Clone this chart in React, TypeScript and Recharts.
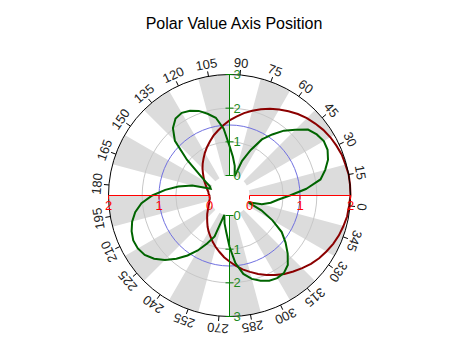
import React from 'react';
import { RadarChart, Radar, PolarGrid, PolarAngleAxis, PolarRadiusAxis, PieChart, Pie, Cell } from 'recharts';

// angle categories, every 5 degrees
const angles = [
  '0', '5', '10', '15', '20', '25', '30', '35', '40', '45', '50', '55',
  '60', '65', '70', '75', '80', '85', '90', '95', '100', '105', '110', '115',
  '120', '125', '130', '135', '140', '145', '150', '155', '160', '165', '170', '175',
  '180', '185', '190', '195', '200', '205', '210', '215', '220', '225', '230', '235',
  '240', '245', '250', '255', '260', '265', '270', '275', '280', '285', '290', '295',
  '300', '305', '310', '315', '320', '325', '330', '335', '340', '345', '350', '355',
];

// dark red series (red value axis, 0..2)
const redValues = [
  2.0, 2.0, 1.98, 1.97, 1.94, 1.91, 1.87, 1.82, 1.77, 1.71, 1.64, 1.57,
  1.5, 1.42, 1.34, 1.26, 1.17, 1.09, 1.0, 0.91, 0.83, 0.74, 0.66, 0.58,
  0.5, 0.43, 0.36, 0.29, 0.23, 0.18, 0.13, 0.09, 0.06, 0.03, 0.02, 0.0,
  0.0, 0.0, 0.02, 0.03, 0.06, 0.09, 0.13, 0.18, 0.23, 0.29, 0.36, 0.43,
  0.5, 0.58, 0.66, 0.74, 0.83, 0.91, 1.0, 1.09, 1.17, 1.26, 1.34, 1.42,
  1.5, 1.57, 1.64, 1.71, 1.77, 1.82, 1.87, 1.91, 1.94, 1.97, 1.98, 2.0,
];

// dark green series (green value axis, 0..3)
const greenValues = [
  1.7, 2.15, 2.35, 2.52, 2.62, 2.64, 2.57, 2.45, 2.17, 1.92, 1.62, 1.33,
  0.9, 0.5, 0.0, 0.3, 0.56, 0.88, 1.4, 1.75, 1.92, 2.08, 2.18, 2.24,
  2.2, 2.02, 1.7, 1.05, 0.5, 0.22, 0.05, 0.0, 0.55, 0.95, 1.32, 1.7,
  2.03, 2.25, 2.4, 2.5, 2.56, 2.55, 2.48, 2.33, 2.12, 1.86, 1.58, 1.29,
  0.98, 0.7, 0.0, 0.25, 0.5, 0.93, 1.42, 1.77, 1.97, 2.1, 2.2, 2.24,
  2.22, 2.1, 1.85, 1.58, 1.3, 0.88, 0.45, 0.0, 0.4, 0.65, 0.85, 1.2,
];

// shaded 15-degree bands
const bandNames = [
  '0', '15', '30', '45', '60', '75', '90', '105', '120', '135', '150', '165',
  '180', '195', '210', '225', '240', '255', '270', '285', '300', '315', '330', '345',
];
const bandSizes = [1, 1, 1, 1, 1, 1, 1, 1, 1, 1, 1, 1, 1, 1, 1, 1, 1, 1, 1, 1, 1, 1, 1, 1];

const redTicks = [0, 1, 2];
const greenTicks = [0, 1, 2, 3];
const greenGridTicks = [1, 2];
const blueGridTicks = [1];

// half-pixel centre keeps the straight value axes crisp
const CX = 229.5;
const CY = 195.5;
const R_IN = 20;
const R_OUT = 121;
const FONT = '"Liberation Sans", Arial, sans-serif';
const RED = '#ff0000';
const GREEN_AXIS = '#008000';

const data = angles.map((a, i) => ({ angle: a, red: redValues[i], green: greenValues[i] }));
const bands = bandNames.map((n, i) => ({ name: n, size: bandSizes[i] }));

const AngleTick = (props: any) => {
  const { x, y, payload } = props;
  const idx = props.index ?? payload.index;
  if (idx % 3 !== 0) return <g />;
  const a = payload.coordinate;
  const c = Math.cos((a * Math.PI) / 180);
  const s = Math.sin((a * Math.PI) / 180);
  const lx = x + 7 * c;
  const ly = y - 7 * s;
  return (
    <g>
      <line x1={x - 5 * c} y1={y + 5 * s} x2={x} y2={y} stroke="#000" />
      <text
        x={lx}
        y={ly}
        transform={`rotate(${90 - a}, ${lx}, ${ly})`}
        textAnchor="middle"
        dominantBaseline="central"
        fontSize={13}
        fontFamily={FONT}
        fill="#222"
      >
        {payload.value}
      </text>
    </g>
  );
};

// the value-axis line is drawn from the 0 tick out to the outer ring
const axisSpan = (x: number, y: number, r: number, dir: number) => {
  const len = R_OUT - r;
  return {
    x1: x,
    y1: y,
    x2: x + len * Math.cos((dir * Math.PI) / 180),
    y2: y - len * Math.sin((dir * Math.PI) / 180),
  };
};

const RedTick = (props: any) => {
  const { x, y, payload, dir } = props;
  return (
    <g>
      {payload.value === 0 && <line {...axisSpan(x, y, payload.coordinate, dir)} stroke={RED} strokeWidth={1} />}
      <line x1={x} y1={y} x2={x} y2={y + 4} stroke={RED} />
      <text x={x} y={y + 10} textAnchor="middle" dominantBaseline="central" fontSize={13} fontFamily={FONT} fill={RED}>
        {payload.value}
      </text>
    </g>
  );
};

const GreenTick = (props: any) => {
  const { x, y, payload, dir } = props;
  return (
    <g>
      {payload.value === 0 && <line {...axisSpan(x, y, payload.coordinate, dir)} stroke={GREEN_AXIS} strokeWidth={1} />}
      <line x1={x - 4} y1={y} x2={x + 4} y2={y} stroke={GREEN_AXIS} />
      <text x={x + 4} y={y} textAnchor="start" dominantBaseline="central" fontSize={13} fontFamily={FONT} fill="#1f8a1f">
        {payload.value}
      </text>
    </g>
  );
};

export default function App() {
  return (
    <div style={{ position: 'absolute', left: 0, top: 0, width: 460, height: 345, background: '#fff', fontFamily: FONT }}>
      <div style={{ position: 'absolute', left: 4, top: 14, width: 460, textAlign: 'center', fontSize: 16, lineHeight: '20px', color: '#000' }}>
        Polar Value Axis Position
      </div>
      <div style={{ position: 'absolute', left: 0, top: 0 }}>
        <PieChart width={460} height={345} margin={{ top: 0, right: 0, bottom: 0, left: 0 }}>
          <Pie
            data={bands}
            dataKey="size"
            nameKey="name"
            cx={CX}
            cy={CY}
            innerRadius={R_IN}
            outerRadius={R_OUT}
            startAngle={0}
            endAngle={360}
            stroke="none"
            isAnimationActive={false}
          >
            {bands.map((b, i) => (
              <Cell key={b.name} fill={i % 2 === 0 ? '#dcdcdc' : 'rgba(0,0,0,0)'} />
            ))}
          </Pie>
        </PieChart>
      </div>
      <div style={{ position: 'absolute', left: 0, top: 0 }}>
        <RadarChart
          width={460}
          height={345}
          data={data}
          cx={CX}
          cy={CY}
          innerRadius={R_IN}
          outerRadius={R_OUT}
          startAngle={0}
          endAngle={360}
          margin={{ top: 0, right: 0, bottom: 0, left: 0 }}
        >
          <PolarGrid gridType="circle" radialLines={false} radiusAxisId="gridG" stroke="#c8c8c8" />
          <PolarGrid gridType="circle" radialLines={false} radiusAxisId="gridB" stroke="#7070e0" />
          <PolarAngleAxis
            dataKey="angle"
            type="category"
            axisLineType="circle"
            stroke="#000"
            tickLine={false}
            tickSize={5}
            tick={<AngleTick />}
          />
          <PolarRadiusAxis radiusAxisId="gridG" type="number" domain={[0, 3]} ticks={greenGridTicks} tick={false} axisLine={false} stroke="none" />
          <PolarRadiusAxis radiusAxisId="gridB" type="number" domain={[0, 2]} ticks={blueGridTicks} tick={false} axisLine={false} stroke="none" />
          {/* invisible series so that every helper axis has an item bound to it */}
          <Radar dataKey="red" radiusAxisId="gridB" stroke="none" fill="none" dot={false} legendType="none" isAnimationActive={false} />
          <Radar dataKey="red" radiusAxisId="r180" stroke="none" fill="none" dot={false} legendType="none" isAnimationActive={false} />
          <Radar dataKey="green" radiusAxisId="gridG" stroke="none" fill="none" dot={false} legendType="none" isAnimationActive={false} />
          <Radar dataKey="green" radiusAxisId="g270" stroke="none" fill="none" dot={false} legendType="none" isAnimationActive={false} />
          <Radar
            dataKey="red"
            radiusAxisId="r0"
            stroke="#8b0000"
            strokeWidth={2}
            fill="none"
            fillOpacity={0}
            dot={false}
            isAnimationActive={false}
          />
          <Radar
            dataKey="green"
            radiusAxisId="g90"
            stroke="#006400"
            strokeWidth={2}
            fill="none"
            fillOpacity={0}
            dot={false}
            isAnimationActive={false}
          />
          <PolarRadiusAxis radiusAxisId="r0" angle={0} type="number" domain={[0, 2]} ticks={redTicks} axisLine={false} tick={<RedTick dir={0} />} />
          <PolarRadiusAxis radiusAxisId="r180" angle={180} type="number" domain={[0, 2]} ticks={redTicks} axisLine={false} tick={<RedTick dir={180} />} />
          <PolarRadiusAxis radiusAxisId="g90" angle={90} type="number" domain={[0, 3]} ticks={greenTicks} axisLine={false} tick={<GreenTick dir={90} />} />
          <PolarRadiusAxis radiusAxisId="g270" angle={270} type="number" domain={[0, 3]} ticks={greenTicks} axisLine={false} tick={<GreenTick dir={270} />} />
        </RadarChart>
      </div>
    </div>
  );
}
